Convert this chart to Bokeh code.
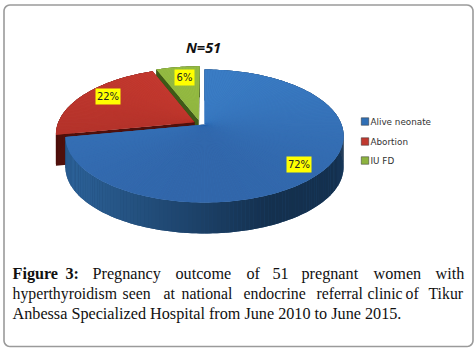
import math
from bokeh.plotting import figure
from bokeh.models import Range1d
from bokeh.core.properties import value
from bokeh.embed import file_html
from bokeh.resources import INLINE

# --- data ---
categories = ["Alive neonate", "Abortion", "IU FD"]
percentages = [72, 22, 6]
title_text = "N=51"
caption_line_1 = ["Figure", "3:", "Pregnancy", "outcome", "of", "51", "pregnant", "women", "with"]
caption_line_2 = ["hyperthyroidism", "seen", "at", "national", "endocrine", "referral", "clinic", "of", "Tikur"]
caption_line_3 = "Anbessa Specialized Hospital from June 2010 to June 2015."

# --- layout and style ---
W, H = 476, 351
CX, CY, A, B, K = 204, 124, 137, 64.5, 0.173
DEPTH = 31
explode = [0.0, 0.07, 0.07]
explode_dx = [0.0, -0.012, -0.03]
top_light = ["#3a7cc4", "#c4392f", "#94ba42"]
top_dark = ["#3166aa", "#a92f28", "#7fa338"]
wall_left = ["#2c6299", "#4f100c", "#3f5a18"]
wall_right = ["#14304e", "#4f100c", "#3f5a18"]
label_xy = [(298.5, 164), (107.5, 96), (184, 77)]
legend_y = [121, 141, 160]
legend_colors = ["#2f6fb5", "#c0392f", "#8db33f"]
x1_words = [12, 65, 92, 175, 246, 272, 301, 373, 435]
x2_words = [12, 122, 163, 181, 243, 316, 367, 405, 428]

def mix(c1, c2, t):
    a = [int(c1[i:i+2], 16) for i in (1, 3, 5)]
    b = [int(c2[i:i+2], 16) for i in (1, 3, 5)]
    return "#%02x%02x%02x" % tuple(round(u + (v - u) * t) for u, v in zip(a, b))

def project(X, Z):
    s = 1 / (1 - K * Z)
    return CX + A * X * s, CY + B * Z * s

def rim(theta, ox, oz):
    return project(math.sin(theta) + ox, -math.cos(theta) + oz)

p = figure(width=W, height=H, x_range=Range1d(0, W), y_range=Range1d(H, 0),
           output_backend="svg", toolbar_location=None, min_border=0,
           margin=(0, 0, 0, 0), outline_line_color=None)
p.axis.visible = False
p.grid.visible = False

# frame
fx0, fx1, fy0, fy1, fr = 3.5, 472.5, 4.5, 346, 6
fxs, fys = [], []
for (cx, cy, start) in [(fx1 - fr, fy0 + fr, -90), (fx1 - fr, fy1 - fr, 0),
                        (fx0 + fr, fy1 - fr, 90), (fx0 + fr, fy0 + fr, 180)]:
    for d in range(0, 91, 15):
        t = math.radians(start + d)
        fxs.append(cx + fr * math.cos(t))
        fys.append(cy + fr * math.sin(t))
fxs.append(fxs[0]); fys.append(fys[0])
p.line(fxs, fys, line_color="#9a9a9a", line_width=1.6)

# slices, back to front
total = sum(percentages)
bounds = []
acc = 0
for v in percentages:
    bounds.append((acc / total * 2 * math.pi, (acc + v) / total * 2 * math.pi))
    acc += v

for i in [2, 1, 0]:
    t0, t1 = bounds[i]
    mid = (t0 + t1) / 2
    ox, oz = explode[i] * math.sin(mid) + explode_dx[i], -explode[i] * math.cos(mid)
    ax, ay = project(ox, oz)
    n = max(8, int((t1 - t0) * 40))
    ts = [t0 + (t1 - t0) * j / n for j in range(n + 1)]
    pts = [rim(t, ox, oz) for t in ts]
    # cut walls
    for (ex, ey) in (pts[0], pts[-1]):
        p.patch([ax, ex, ex, ax], [ay, ey, ey + DEPTH, ay + DEPTH],
                fill_color=wall_right[i] if i else "#173a5e", line_color=None)
    # outer wall: a solid base under shaded strips, so strip seams stay hidden
    bx = [q[0] for q in pts] + [q[0] for q in reversed(pts)]
    by = [q[1] for q in pts] + [q[1] + DEPTH for q in reversed(pts)]
    p.patch(bx, by, fill_color=mix(wall_left[i], wall_right[i], 0.5), line_color=None)
    wx, wy, wc = [], [], []
    for j in range(n):
        (x0, y0), (x1, y1) = pts[j], pts[j + 1]
        wx.append([x0, x1, x1, x0])
        wy.append([y0, y1, y1 + DEPTH, y0 + DEPTH])
        f = (x0 - (CX - A)) / (2 * A)
        wc.append(mix(wall_left[i], wall_right[i], min(1, f * 1.35)))
    p.patches(wx, wy, fill_color=wc, line_color=None)
    # top: same approach
    p.patch([ax] + [q[0] for q in pts], [ay] + [q[1] for q in pts],
            fill_color=mix(top_light[i], top_dark[i], 0.5), line_color=None)
    tx, ty, tc = [], [], []
    for j in range(n):
        (x0, y0), (x1, y1) = pts[j], pts[j + 1]
        tx.append([ax, x0, x1])
        ty.append([ay, y0, y1])
        f = (1 - math.cos((ts[j] + ts[j + 1]) / 2)) / 2
        tc.append(mix(top_light[i], top_dark[i], f))
    p.patches(tx, ty, fill_color=tc, line_color=None)

# data labels
for v, (x, y) in zip(percentages, label_xy):
    p.rect([x], [y], width=25 if v > 9 else 20, height=16, fill_color="#ffff00", line_color=None)
    p.text([x], [y], text=[f"{v}%"], text_font=value("DejaVu Sans"), text_font_size="10px",
           text_color="#222222", text_align="center", text_baseline="middle")

# title
p.text([203], [47], text=[title_text], text_font=value("Open Sans"), text_font_size="14.5px",
       text_font_style="bold italic", text_color="#111111", text_align="center", text_baseline="middle")

# legend
for c, name, y in zip(legend_colors, categories, legend_y):
    p.rect([364.5], [y], width=7.5, height=7.5, fill_color=c, line_color="#333333", line_width=0.5)
    p.text([370], [y], text=[name], text_font=value("DejaVu Sans"), text_font_size="8.8px",
           text_color="#333333", text_align="left", text_baseline="middle")

# caption
cap = dict(text_font=value("Liberation Serif"), text_color="#111111",
           text_align="left", text_baseline="alphabetic")
for j, (w, x) in enumerate(zip(caption_line_1, x1_words)):
    p.text([x], [273], text=[w], text_font_size="16.2px", text_font_style="bold" if j < 2 else "normal", **cap)
for w, x in zip(caption_line_2, x2_words):
    p.text([x], [293], text=[w], text_font_size="15.8px", **cap)
p.text([12], [313], text=[caption_line_3], text_font_size="16.2px", **cap)

open("out.html", "w").write(file_html(p, INLINE))
